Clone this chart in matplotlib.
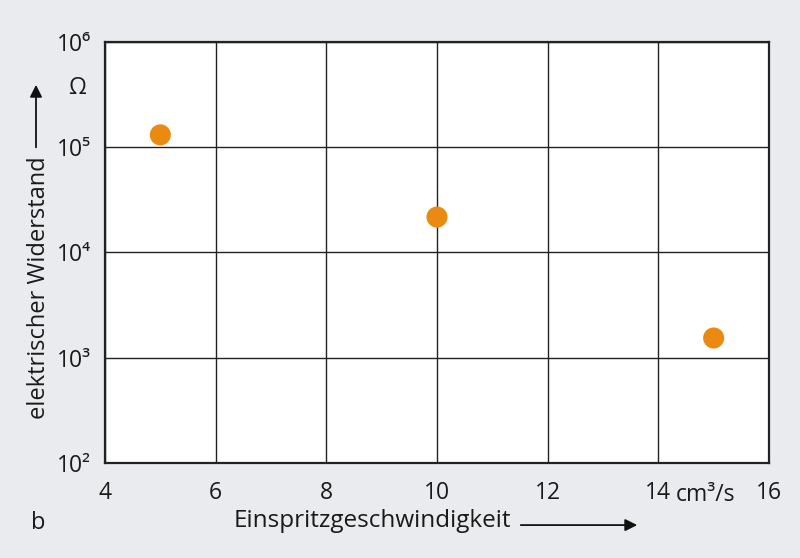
import matplotlib
matplotlib.use("Agg")
import matplotlib.pyplot as plt

plt.rcParams['font.family'] = ['Open Sans', 'DejaVu Sans']

# Messwerte
geschwindigkeit = [5, 10, 15]
widerstand = [1.31e5, 2.17e4, 1.54e3]

x_ticks = [4, 6, 8, 10, 12, 14, 16]
y_ticks = [1e2, 1e3, 1e4, 1e5, 1e6]
y_tick_labels = ['10²', '10³', '10⁴', '10⁵', '10⁶']

bg = '#e9ebee'
txt = '#1a1a1a'
fig = plt.figure(figsize=(8, 5.58), dpi=100, facecolor=bg)
ax = fig.add_axes([0.13125, 0.1703, 0.83, 0.7545])
ax.set_facecolor('white')

ax.scatter(geschwindigkeit, widerstand, s=230, color='#eb8a10', zorder=3, edgecolors='none')

ax.set_yscale('log')
ax.set_xlim(4, 16)
ax.set_ylim(1e2, 1e6)
ax.set_xticks(x_ticks)
ax.set_xticklabels([str(t) for t in x_ticks])
ax.set_yticks(y_ticks)
ax.set_yticklabels(y_tick_labels)
ax.minorticks_off()
ax.tick_params(length=0, labelsize=16.5, colors=txt)
ax.tick_params(axis='x', pad=13)
ax.tick_params(axis='y', pad=10)
ax.grid(True, color='#222222', linewidth=1.0)
for sp in ax.spines.values():
    sp.set_linewidth(1.6)
    sp.set_color('#222222')

# Einheiten
ax.text(14.86, -0.077, 'cm³/s', transform=ax.get_xaxis_transform(),
        ha='center', va='center', fontsize=16.5, color=txt)
ax.text(-0.042, 0.891, 'Ω', transform=ax.transAxes, ha='center', va='center',
        fontsize=16.5, color=txt)

# Achsenbeschriftungen mit Pfeilen
fig.text(0.049, 0.484, 'elektrischer Widerstand', rotation=90, ha='center', va='center',
         fontsize=17, color=txt)
ax.annotate('', xy=(0.045, 0.853), xytext=(0.045, 0.731), xycoords='figure fraction',
            arrowprops=dict(arrowstyle='-|>', color='#111111', lw=1.3, mutation_scale=18))
fig.text(0.466, 0.066, 'Einspritzgeschwindigkeit', ha='center', va='center',
         fontsize=17.5, color=txt)
ax.annotate('', xy=(0.80, 0.059), xytext=(0.6475, 0.059), xycoords='figure fraction',
            arrowprops=dict(arrowstyle='-|>', color='#111111', lw=1.3, mutation_scale=18))
fig.text(0.0475, 0.062, 'b', ha='center', va='center', fontsize=17, color=txt)

fig.savefig('out.png', dpi=100, facecolor=bg)
